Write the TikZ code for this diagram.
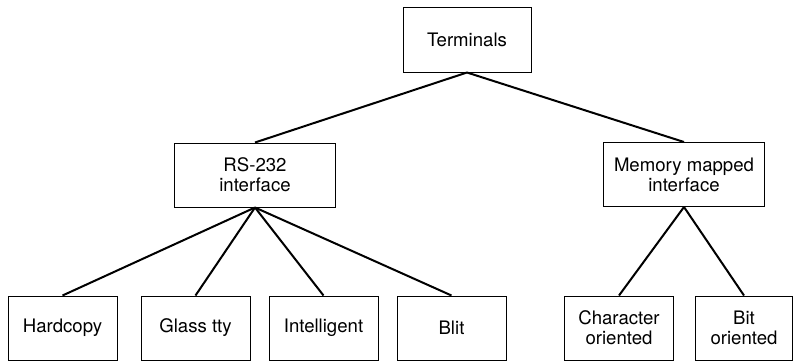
\documentclass[tikz,border=0pt]{standalone}
\usepackage{fontspec}
\setmainfont{TeX Gyre Heros}
\usepackage{tikz}
\usetikzlibrary{positioning}
\tikzstyle{boxnode} = [rectangle, draw=black, line width=0.5pt, align=center, inner sep=1pt, font=\fontsize{9.3}{10}\selectfont]
\tikzstyle{topbox} = [boxnode, minimum width=64pt, minimum height=32.5pt]
\tikzstyle{midbox} = [boxnode, minimum width=80.5pt, minimum height=32pt]
\tikzstyle{leafbox} = [boxnode, minimum width=54.5pt, minimum height=32pt]
\tikzstyle{branch} = [line width=1pt]

\begin{document}
\begin{tikzpicture}[x=1pt, y=1pt]
\useasboundingbox (0,0) rectangle (396.5,-180.5);
\node[topbox] (terminals) at (233.5,-19.75) {Terminals};
\node[midbox] (rsinterface) at (127.5,-87.5) {RS-232\\interface};
\node[midbox] (meminterface) at (342,-87.25) {Memory mapped\\interface};
\node[leafbox] (hardcopy) at (31.25,-164) {Hardcopy};
\node[leafbox, right=11.5pt of hardcopy] (glasstty) {Glass tty};
\node[leafbox, right=9pt of glasstty] (intelligent) {Intelligent};
\node[leafbox, right=9pt of intelligent] (blit) {Blit};
\node[leafbox] (charoriented) at (309.5,-164) {Character\\oriented};
\node[leafbox, minimum width=48.5pt, right=10.5pt of charoriented] (bitoriented) {Bit\\oriented};

\draw[branch] (terminals.south) -- (rsinterface.north);
\draw[branch] (terminals.south) -- (meminterface.north);
\draw[branch] (rsinterface.south) -- (hardcopy.north);
\draw[branch] (rsinterface.south) -- (glasstty.north);
\draw[branch] (rsinterface.south) -- (intelligent.north);
\draw[branch] (rsinterface.south) -- (blit.north);
\draw[branch] (meminterface.south) -- (charoriented.north);
\draw[branch] (meminterface.south) -- (bitoriented.north);
\end{tikzpicture}
\end{document}
